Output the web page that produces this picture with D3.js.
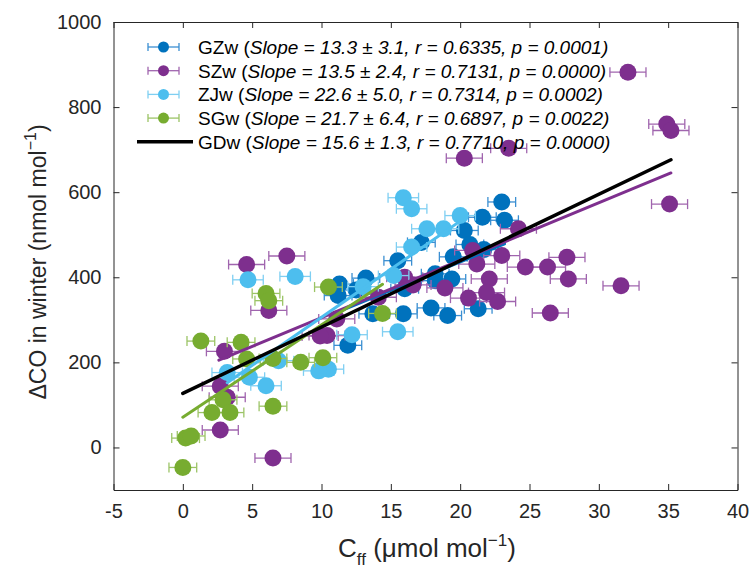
<!DOCTYPE html>
<html>
<head>
<meta charset="utf-8">
<script src="https://cdn.jsdelivr.net/npm/d3@7"></script>
<style>
  body { margin: 0; background: #fff; }
  svg { font-family: "Liberation Sans", Arial, sans-serif; }
</style>
</head>
<body>
<svg id="chart"></svg>
<script>
// ticks
let xTicks = [-5, 0, 5, 10, 15, 20, 25, 30, 35, 40];
let yTicks = [0, 200, 400, 600, 800, 1000];

// GZw (blue)
let gzX = [23.0, 21.6, 23.2, 20.3, 17.2, 15.5, 20.7, 21.7, 19.5, 18.2, 19.4, 17.9, 19.1, 21.3, 15.9, 13.7, 16.0, 13.2, 11.3, 11.2, 11.9, 12.5, 18.2];
let gzY = [577, 541, 534, 510, 482, 439, 477, 465, 448, 408, 396, 328, 310, 326, 314, 314, 373, 398, 384, 357, 240, 370, 392];

// SZw (purple)
let szX = [32.1, 34.9, 35.2, 35.1, 20.3, 23.5, 24.2, 23.0, 24.7, 26.3, 27.7, 27.8, 31.6, 26.5, 22.7, 20.9, 21.2, 22.1, 21.9, 20.6, 18.9, 16.6, 16.0, 10.4, 9.9, 11.1, 4.6, 7.5, 6.2, 3.0, 2.7, 3.2, 2.7, 6.5, 14.1];
let szY = [882, 760, 745, 572, 680, 703, 514, 451, 424, 424, 447, 396, 380, 316, 343, 463, 431, 396, 364, 351, 375, 382, 400, 263, 262, 302, 430, 450, 322, 226, 144, 118, 41, -25, 353];

// ZJw (light blue)
let zjX = [15.9, 16.5, 20.0, 17.6, 18.8, 16.5, 15.2, 13.0, 15.5, 12.2, 10.5, 9.8, 4.7, 8.1, 6.9, 4.8, 6.0, 3.2];
let zjY = [587, 561, 545, 514, 514, 471, 404, 378, 272, 265, 184, 180, 394, 402, 204, 165, 145, 176];

// SGw (green)
let sgX = [10.5, 6.0, 6.2, 1.3, 4.2, 4.6, 6.5, 8.5, 10.1, 2.9, 2.1, 3.4, 6.5, 0.0, 0.2, 0.6, 14.4];
let sgY = [377, 362, 345, 250, 247, 208, 209, 200, 211, 112, 82, 82, 97, -47, 22, 27, 315];

// horizontal error (half width) per series
let errGZ = 1.0;
let errSZ = 1.3;
let errZJ = 1.1;
let errSG = 1.0;

// fits: GZw, SZw, ZJw, SGw, GDw
let fitNames = ["GZw", "SZw", "ZJw", "SGw", "GDw"];
let fitSlope = ["13.3", "13.5", "22.6", "21.7", "15.6"];
let fitSlopeErr = ["3.1", "2.4", "5.0", "6.4", "1.3"];
let fitR = ["0.6335", "0.7131", "0.7314", "0.6897", "0.7710"];
let fitP = ["0.0001", "0.0000", "0.0002", "0.0022", "0.0000"];
let fitIntercept = [170, 170, 80, 71, 127];
let fitXmin = [11.2, 2.6, 3.2, 0.0, 0.0];
let fitXmax = [23.2, 35.2, 20.0, 14.4, 35.2];

let colors = ["#0072BD", "#7E2F8E", "#4DBEEE", "#77AC30", "#000000"];
let barColors = ["#3b8fd2", "#a065ae", "#7fcff2", "#9cc466"];

let width = 752;
let height = 576;
let padL = 113.5, padR = 737.5, padT = 22, padB = 490;

let svg = d3.select("#chart").attr("width", width).attr("height", height);

let xScale = d3.scaleLinear().domain([-5, 40]).range([padL, padR]);
let yScale = d3.scaleLinear().domain([-100, 1000]).range([padB, padT]);

let axisColor = "#262626";

let styleAxis = (g) => {
  g.select(".domain").attr("stroke", axisColor).attr("stroke-width", 1);
  g.selectAll(".tick line").attr("stroke", axisColor);
  g.selectAll("text").attr("fill", axisColor).style("font-size", "20px")
   .style("font-family", "'Liberation Sans', Arial, sans-serif");
};

// axes (ticks inward, box on)
svg.append("g")
   .attr("transform", "translate(0," + padB + ")")
   .call(d3.axisBottom(xScale).tickValues(xTicks).tickFormat(d => d).tickSizeInner(-6).tickSizeOuter(0).tickPadding(14))
   .call(styleAxis);
svg.append("g")
   .attr("transform", "translate(0," + padT + ")")
   .call(d3.axisTop(xScale).tickValues(xTicks).tickSizeInner(-6).tickSizeOuter(0).tickFormat(""))
   .call(styleAxis);
svg.append("g")
   .attr("transform", "translate(" + padL + ",0)")
   .call(d3.axisLeft(yScale).tickValues(yTicks).tickFormat(d => d).tickSizeInner(-6).tickSizeOuter(0).tickPadding(12))
   .call(styleAxis);
svg.append("g")
   .attr("transform", "translate(" + padR + ",0)")
   .call(d3.axisRight(yScale).tickValues(yTicks).tickSizeInner(-6).tickSizeOuter(0).tickFormat(""))
   .call(styleAxis);

// data series
let series = [
  { x: gzX, y: gzY, e: errGZ },
  { x: szX, y: szY, e: errSZ },
  { x: zjX, y: zjY, e: errZJ },
  { x: sgX, y: sgY, e: errSG }
];

let plot = svg.append("g");
let cap = 5;

series.forEach((s, i) => {
  let pts = s.x.map((v, k) => [v, s.y[k]]);
  let g = plot.append("g");
  let bars = g.selectAll("g.eb").data(pts).enter().append("g")
              .attr("stroke", barColors[i]).attr("stroke-width", 1.3);
  bars.append("line")
      .attr("x1", d => xScale(d[0] - s.e)).attr("x2", d => xScale(d[0] + s.e))
      .attr("y1", d => yScale(d[1])).attr("y2", d => yScale(d[1]));
  bars.append("line")
      .attr("x1", d => xScale(d[0] - s.e)).attr("x2", d => xScale(d[0] - s.e))
      .attr("y1", d => yScale(d[1]) - cap).attr("y2", d => yScale(d[1]) + cap);
  bars.append("line")
      .attr("x1", d => xScale(d[0] + s.e)).attr("x2", d => xScale(d[0] + s.e))
      .attr("y1", d => yScale(d[1]) - cap).attr("y2", d => yScale(d[1]) + cap);
  g.selectAll("circle").data(pts).enter().append("circle")
   .attr("cx", d => xScale(d[0])).attr("cy", d => yScale(d[1]))
   .attr("r", 8.5).attr("fill", colors[i]);
});

// fit lines
fitNames.forEach((n, i) => {
  plot.append("line")
      .attr("x1", xScale(fitXmin[i])).attr("y1", yScale(fitIntercept[i] + (+fitSlope[i]) * fitXmin[i]))
      .attr("x2", xScale(fitXmax[i])).attr("y2", yScale(fitIntercept[i] + (+fitSlope[i]) * fitXmax[i]))
      .attr("stroke", colors[i])
      .attr("stroke-width", i == 4 ? 3.5 : 3)
      .attr("stroke-linecap", "round");
});

// legend
let legend = svg.append("g");
let rowY = 47, rowH = 23.7;
fitNames.forEach((n, i) => {
  let y = rowY + i * rowH;
  if (i < 4) {
    legend.append("line").attr("x1", 148).attr("x2", 179).attr("y1", y).attr("y2", y)
          .attr("stroke", barColors[i]).attr("stroke-width", 1.3);
    [148, 179].forEach(cx => {
      legend.append("line").attr("x1", cx).attr("x2", cx).attr("y1", y - 4).attr("y2", y + 4)
            .attr("stroke", barColors[i]).attr("stroke-width", 1.3);
    });
    legend.append("circle").attr("cx", 163.5).attr("cy", y).attr("r", 5.5).attr("fill", colors[i]);
  } else {
    legend.append("line").attr("x1", 137).attr("x2", 193).attr("y1", y).attr("y2", y)
          .attr("stroke", "#000").attr("stroke-width", 3.5);
  }
  let t = legend.append("text").attr("x", 198).attr("y", y + 7)
                .style("font-size", "19px").attr("fill", "#000");
  t.append("tspan").text(n + " (");
  t.append("tspan").style("font-style", "italic")
   .text("Slope = " + fitSlope[i] + " ± " + fitSlopeErr[i] + ", r = " + fitR[i] + ", p = " + fitP[i] + ")");
});

// axis labels
let xl = svg.append("text").attr("x", 427).attr("y", 557).attr("text-anchor", "middle")
            .style("font-size", "26px").attr("fill", axisColor);
xl.append("tspan").text("C");
xl.append("tspan").attr("dy", 8).style("font-size", "17px").text("ff");
xl.append("tspan").attr("dy", -8).text(" (μmol mol");
xl.append("tspan").attr("dy", -11).style("font-size", "17px").text("−1");
xl.append("tspan").attr("dy", 11).text(")");

let yl = svg.append("text").attr("transform", "translate(46,262) rotate(-90)").attr("text-anchor", "middle")
            .style("font-size", "23px").attr("fill", axisColor);
yl.append("tspan").text("ΔCO in winter (nmol mol");
yl.append("tspan").attr("dy", -10).style("font-size", "16px").text("−1");
yl.append("tspan").attr("dy", 10).text(")");
</script>
</body>
</html>
